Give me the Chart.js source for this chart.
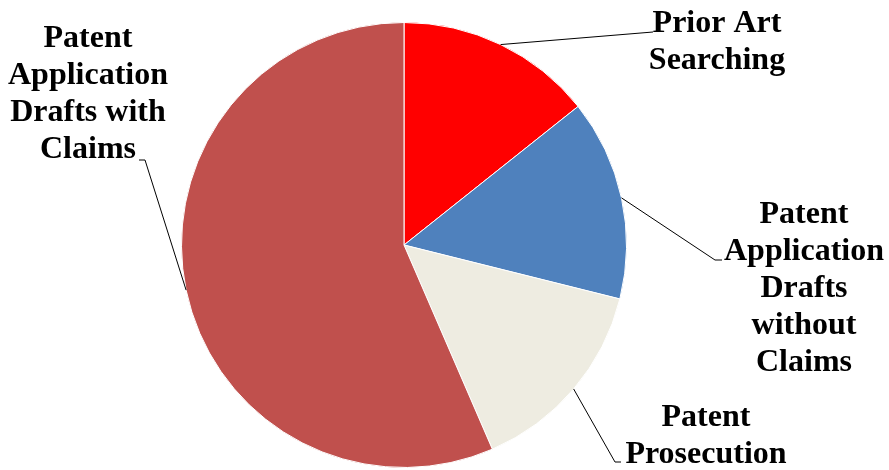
<!DOCTYPE html>
<html>
<head>
<meta charset="utf-8">
<script src="https://cdn.jsdelivr.net/npm/chart.js@4"></script>
<style>
  html, body { margin: 0; padding: 0; background: #fff; }
  #wrap { width: 889px; height: 470px; position: relative; }
</style>
</head>
<body>
<div id="wrap"><canvas id="pie"></canvas></div>
<script>
const categories = [
  "Prior Art Searching",
  "Patent Application Drafts without Claims",
  "Patent Prosecution",
  "Patent Application Drafts with Claims",
];
const shares = [14.3, 14.6, 14.6, 56.5];
const sliceColors = ["#FF0000", "#4F81BD", "#EEECE1", "#C0504D"];

// where each label sits, and how its leader line bends
const labelPlacement = [
  { lines: ["Prior Art", "Searching"], x: 717, y: 24, path: [[653, 32]] },
  { lines: ["Patent", "Application", "Drafts", "without", "Claims"], x: 804, y: 215, path: [[715, 260], [722, 260]] },
  { lines: ["Patent", "Prosecution"], x: 706, y: 418, path: [[615, 462], [621, 462]] },
  { lines: ["Patent", "Application", "Drafts with", "Claims"], x: 88, y: 39, path: [[145, 160], [139, 160]] },
];

const leaderLabels = {
  id: "leaderLabels",
  afterDraw(chart) {
    const ctx = chart.ctx;
    const arcs = chart.getDatasetMeta(0).data;
    ctx.save();
    arcs.forEach((arc, i) => {
      const p = arc.getProps(["x", "y", "startAngle", "endAngle", "outerRadius"], true);
      const mid = (p.startAngle + p.endAngle) / 2;
      const sx = p.x + Math.cos(mid) * p.outerRadius;
      const sy = p.y + Math.sin(mid) * p.outerRadius;
      const place = labelPlacement[i];

      ctx.strokeStyle = "#000";
      ctx.lineWidth = 1;
      ctx.beginPath();
      ctx.moveTo(sx, sy);
      place.path.forEach(([px, py]) => ctx.lineTo(px, py));
      ctx.stroke();

      ctx.fillStyle = "#000";
      ctx.font = "bold 32px 'Liberation Serif', serif";
      ctx.textAlign = "center";
      ctx.textBaseline = "middle";
      place.lines.forEach((line, k) => {
        ctx.fillText(line, place.x, place.y + k * 37);
      });
    });
    ctx.restore();
  },
};

new Chart(document.getElementById("pie"), {
  type: "pie",
  data: {
    labels: categories,
    datasets: [
      {
        data: shares,
        backgroundColor: sliceColors,
        borderColor: "#fff",
        borderWidth: 1,
      },
    ],
  },
  options: {
    responsive: true,
    maintainAspectRatio: false,
    animation: false,
    layout: { padding: { left: 0, right: 81, top: 22, bottom: 2 } },
    plugins: {
      legend: { display: false },
      tooltip: { enabled: false },
    },
  },
  plugins: [leaderLabels],
});
</script>
</body>
</html>
